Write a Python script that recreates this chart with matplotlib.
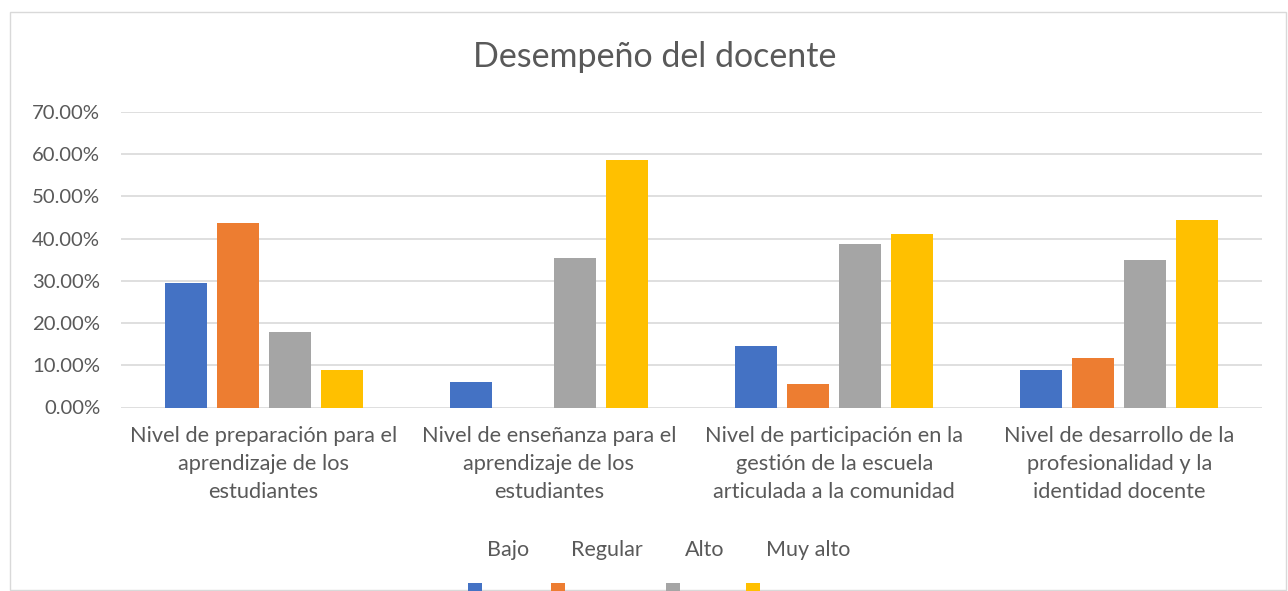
import matplotlib
matplotlib.use("Agg")
import matplotlib.pyplot as plt
from matplotlib.patches import Rectangle
import numpy as np

categories = [
    "Nivel de preparación para el\naprendizaje de los\nestudiantes",
    "Nivel de enseñanza para el\naprendizaje de los\nestudiantes",
    "Nivel de participación en la\ngestión de la escuela\narticulada a la comunidad",
    "Nivel de desarrollo de la\nprofesionalidad y la\nidentidad docente",
]
series_names = ["Bajo", "Regular", "Alto", "Muy alto"]
bajo = [0.295, 0.060, 0.146, 0.089]
regular = [0.437, 0.0, 0.056, 0.117]
alto = [0.179, 0.354, 0.387, 0.350]
muy_alto = [0.089, 0.586, 0.411, 0.444]
series_values = [bajo, regular, alto, muy_alto]
colors = ["#4472C4", "#ED7D31", "#A5A5A5", "#FFC000"]
yticks = [0.0, 0.1, 0.2, 0.3, 0.4, 0.5, 0.6, 0.7]
title = "Desempeño del docente"

W, H = 1288, 591
fig = plt.figure(figsize=(W / 100, H / 100), dpi=100)
plt.rcParams['font.family'] = ['Lato', 'DejaVu Sans']
txt = "#595959"
grid = "#D9D9D9"

# chart border
fig.patches.append(Rectangle((10 / W, 1 - 590 / H), 1276 / W, 578 / H,
                             transform=fig.transFigure, fill=False,
                             edgecolor=grid, linewidth=1.0))

ax = fig.add_axes([121 / W, 1 - 407.5 / H, (1262 - 121) / W, (407.5 - 112) / H])
x = np.arange(len(categories))
step = 52 / 285
width = 42 / 285
for i, (vals, c) in enumerate(zip(series_values, colors)):
    ax.bar(x + (i - 1.5) * step, vals, width=width, color=c, zorder=3)

ax.set_xlim(-0.5, len(categories) - 0.5)
ax.set_ylim(0, 0.7)
ax.set_yticks(yticks)
ax.set_yticklabels([f"{v * 100:.2f}%" for v in yticks], fontsize=14.6, color=txt)
ax.set_xticks(x)
ax.set_xticklabels(categories, fontsize=15.7, color=txt, linespacing=1.52)
ax.tick_params(axis="both", length=0)
ax.tick_params(axis="x", pad=13)
ax.tick_params(axis="y", pad=15)
for s in ax.spines.values():
    s.set_visible(False)
ax.yaxis.grid(True, color=grid, linewidth=1.2, zorder=0)
ax.set_axisbelow(True)

fig.text(655 / W, 1 - 57 / H, title, fontsize=24.5, color=txt, ha="center", va="center")

# legend: labels above, markers below (as in reference)
label_x = [508, 607, 705, 808]
marker_x = [468, 551, 666, 746]
for name, c, lx, mx in zip(series_names, colors, label_x, marker_x):
    fig.text(lx / W, 1 - 550 / H, name, fontsize=15.5, color=txt, ha="center", va="center")
    fig.patches.append(Rectangle((mx / W, 1 - 591 / H), 14 / W, 8 / H,
                                 transform=fig.transFigure, facecolor=c,
                                 edgecolor="none"))

fig.savefig("out.png", dpi=100)
